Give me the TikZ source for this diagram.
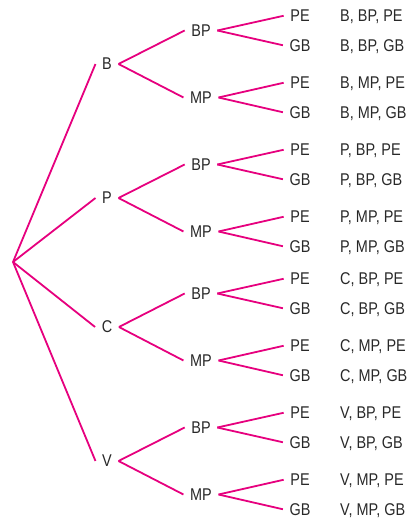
\documentclass[tikz,border=0pt]{standalone}
\usepackage{fontspec}
\setmainfont[FakeStretch=0.85]{Liberation Sans}
\usepackage{tikz}
\usetikzlibrary{positioning,calc}
\usepackage{xcolor}
\definecolor{branchpink}{RGB}{230,0,126}
\definecolor{labelgray}{RGB}{40,40,40}

\begin{document}
\begin{tikzpicture}[x=1pt, y=-1pt,
    branch/.style={branchpink, line width=1.8pt},
    choice/.style={labelgray, inner xsep=6.5pt, inner ysep=0pt,
      text depth=0pt, font=\fontsize{17}{19}\selectfont},
    outcome/.style={labelgray, anchor=west, inner sep=0pt,
      text depth=0pt, font=\fontsize{17}{19}\selectfont}]
  \useasboundingbox (0,0) rectangle (412,519);
  % Start point
  \coordinate (start) at (13,262);
  % First choice, then two and two more
  \foreach \a/\y in {B/64, P/198, C/327, V/461} {
    \node[choice] (\a) at (107,\y) {\a};
    \draw[branch] (start) -- (\a.west);
    \foreach \b/\s in {BP/-1, MP/1} {
      \node[choice] (\a\b) at (201,\y+\s*33.5) {\b};
      \draw[branch] (\a.east) -- (\a\b.west);
      \foreach \c/\t in {PE/-1, GB/1} {
        \node[choice] (\a\b\c) at (300,\y+\s*33.5+\t*14.75) {\c};
        \draw[branch] (\a\b.east) -- (\a\b\c.west);
        % Listed outcome
        \node[outcome] (out\a\b\c) at (340,\y+\s*33.5+\t*14.75) {\a, \b, \c};
      }
    }
  }
\end{tikzpicture}
\end{document}
